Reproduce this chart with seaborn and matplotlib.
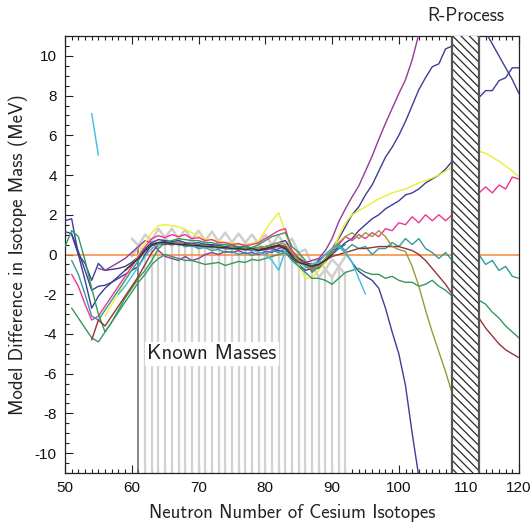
import numpy as np
import pandas as pd
import matplotlib
matplotlib.use("Agg")
import matplotlib.pyplot as plt
import seaborn as sns
from matplotlib.ticker import MultipleLocator, FixedLocator, FixedFormatter
from matplotlib.patches import Rectangle

nan = np.nan

# ---------------- model differences (MeV) vs neutron number ----------------
navy1_start = 50
navy1 = [1.7, 1.8, 0.0, -0.45, -1.3, -0.45, -0.8, -0.75, -0.7, -0.6,
         -0.4, -0.1, 0.3, 0.6, 0.75, 0.7, 0.65, 0.7, 0.6, 0.55,
         0.6, 0.5, 0.5, 0.45, 0.4, 0.45, 0.35, 0.4, 0.3, 0.35,
         0.4, 0.5, 0.6, 0.7, 0.2, -0.3, -0.6, -0.7, -0.3, 0.0,
         0.3, 0.8, 1.4, 2.0, 2.4, 3.0, 3.5, 4.2, 4.9, 5.4,
         6.0, 6.7, 7.5, 8.3, 8.9, 9.45, 9.6, 10.35, 10.5, nan,
         nan, nan, 11.8, 11.2, 10.6, 10.0, 9.4, 8.8, 8.1]

navy2_start = 50
navy2 = [1.15, 1.05, 0.15, -0.8, -1.8, -1.6, -1.55, -1.4, -1.2, -1.0,
         -0.8, -0.6, 0.0, 0.5, 0.6, 0.65, 0.55, 0.6, 0.5, 0.5,
         0.45, 0.45, 0.35, 0.4, 0.3, 0.3, 0.25, 0.3, 0.2, 0.25,
         0.3, 0.35, 0.4, 0.3, 0.0, -0.3, -0.5, -0.6, -0.5, -0.3,
         0.0, 0.3, 0.6, 0.8, 1.2, 1.5, 1.8, 2.0, 2.3, 2.5,
         2.7, 3.0, 3.1, 3.3, 3.6, 3.8, 4.0, 4.3, 4.7, nan,
         nan, nan, 7.9, 8.25, 8.25, 8.75, 8.9, 9.4, 9.4]

navy3_start = 51
navy3 = [1.0, 0.0, -1.3, -2.7, -2.1, -1.7, -1.4, -1.1, -0.8,
         -0.5, -0.2, 0.2, 0.45, 0.55, 0.5, 0.6, 0.5, 0.55, 0.45,
         0.5, 0.4, 0.45, 0.35, 0.4, 0.3, 0.35, 0.25, 0.3, 0.2,
         0.25, 0.3, 0.2, 0.1, -0.2, -0.5, -0.8, -0.7, -0.7, -0.4,
         0.1, 0.4, 0.1, -0.4, -0.85, -1.1, -1.3, -1.7, -2.7, -3.9,
         -5.0, -6.6, -9.0, -11.2]

purple_start = 55
purple = [-0.7, -0.8, -0.6, -0.4, -0.2,
          0.1, 0.4, 0.7, 0.6, 0.2, -0.1, -0.2, -0.3, -0.1, -0.3,
          -0.2, 0.0, 0.1, 0.0, 0.15, 0.1, 0.2, 0.05, 0.1, 0.0,
          0.15, 0.1, 0.3, 0.4, 0.2, -0.2, -0.4, -0.3, -0.2, 0.2,
          0.8, 1.65, 2.3, 2.9, 3.45, 4.2, 4.95, 5.8, 6.6, 7.35,
          8.1, 8.8, 9.8, 11.1]

yellow_start = 56
yellow = [-3.1, -2.5, -2.0, -1.3,
          -0.7, 0.0, 0.6, 1.1, 1.45, 1.5, 1.45, 1.4, 1.25, 1.1,
          0.9, 0.8, 0.75, 0.7, 0.6, 0.6, 0.5, 0.5, 0.55, 0.7,
          1.2, 1.7, 2.1, 1.1, 0.2, -0.5, -1.2, -1.2, -0.8, -0.4,
          0.1, 0.9, 1.6, 2.0, 2.2, 2.4, 2.6, 2.8, 2.95, 3.1,
          3.2, 3.3, 3.45, 3.6, 3.72, 3.85, 4.0, 4.2, 4.4, nan,
          nan, nan, 5.2, 5.1, 4.9, 4.7, 4.45, 4.2, 3.9]

pink_start = 51
pink = [-1.0, -1.6, -2.5, -3.3, -3.1, -2.6, -2.1, -1.6, -1.1,
        -0.6, -0.1, 0.4, 0.8, 0.95, 0.85, 1.0, 0.9, 1.0, 0.8,
        0.85, 0.7, 0.75, 0.6, 0.6, 0.5, 0.55, 0.45, 0.5, 0.6,
        0.8, 1.0, 1.2, 1.3, 0.2, -0.2, -0.6, -0.8, -0.5, -0.3,
        0.2, 0.5, 0.9, 0.7, 1.0, 0.8, 1.1, 0.9, 1.3, 1.2,
        1.6, 1.5, 1.9, 1.6, 2.0, 1.7, 2.0, 1.7, 2.0, nan,
        nan, nan, 3.1, 3.4, 3.1, 3.5, 3.3, 3.9, 3.8]

teal_start = 51
teal = [-0.3, -1.0, -2.0, -3.1, -3.3, -2.8, -2.3, -1.8, -1.3,
        -0.8, -0.3, 0.2, 0.5, 0.6, 0.55, 0.5, 0.55, 0.4, 0.45,
        0.3, 0.35, 0.2, 0.25, 0.1, 0.15, 0.0, 0.1, -0.05, 0.1,
        0.0, 0.2, 0.1, 0.3, 0.0, -0.2, -0.4, -0.6, -0.6, -0.2,
        0.3, 0.5, 0.2, 0.5, 0.3, 0.4, 0.0, 0.3, 0.3, 0.6,
        0.4, 0.8, 0.5, 0.8, 0.3, 0.1, -0.2, 0.1, -0.3, nan,
        nan, nan, 0.0, -0.5, -0.3, -0.8, -0.6, -1.1, -1.2]

green1_start = 50
green1 = [0.4, 1.2, 0.9, -0.3, -1.7, -3.0, -3.9, -3.4, -2.9, -2.4,
          -1.9, -1.4, -1.0, -0.5, -0.2, 0.0, -0.1, -0.2, -0.3, -0.3,
          -0.4, -0.5, -0.45, -0.4, -0.55, -0.45, -0.35, -0.4, -0.25, -0.3,
          -0.2, -0.1, 0.0, 0.1, -0.3, -0.6, -0.9, -1.2, -1.2, -1.3,
          -1.5, -1.2, -0.9, -0.8, -0.7, -0.9, -1.0, -1.0, -1.2, -1.1,
          -1.3, -1.4, -1.4, -1.6, -1.5, -1.3, -1.6, -1.8, -2.1, nan,
          nan, nan, -2.3, -2.5, -2.9, -3.2, -3.6, -3.9, -4.2]

green2_start = 51
green2 = [-2.7, -3.2, -3.7, -4.2, -4.4, -3.9, -3.4, -2.8, -2.2,
          -1.7, -1.2, -0.8, -0.3, 0.3, 0.6, 0.7, 0.8, 0.75, 0.7,
          0.7, 0.6, 0.6, 0.5, 0.5, 0.45, 0.4, 0.4, 0.35, 0.5,
          0.7, 0.9, 1.0, 1.1, 0.4, 0.1, -0.3, -0.9, -0.6, -0.2,
          0.1, 0.3, 0.5]

darkred_start = 54
darkred = [-4.3, -3.3, -3.6, -3.1, -2.6, -2.1,
           -1.6, -1.1, -0.5, 0.1, 0.5, 0.55, 0.5, 0.55, 0.45, 0.5,
           0.4, 0.4, 0.35, 0.35, 0.3, 0.3, 0.25, 0.3, 0.2, 0.25,
           0.3, 0.35, 0.5, 0.4, 0.0, -0.2, -0.4, -0.5, -0.5, -0.3,
           -0.1, 0.0, 0.1, 0.2, 0.3, 0.3, 0.35, 0.4, 0.4, 0.4,
           0.4, 0.3, 0.2, 0.0, -0.3, -0.7, -1.1, -1.5, -2.0, nan,
           nan, nan, -3.2, -3.7, -4.1, -4.5, -4.8, -5.0, -5.2]

olive_start = 62
olive = [0.2, 0.5, 0.6, 0.6, 0.55, 0.6, 0.5, 0.5,
         0.45, 0.45, 0.4, 0.4, 0.35, 0.35, 0.3, 0.3, 0.3, 0.35,
         0.4, 0.5, 0.6, 0.5, 0.1, -0.3, -0.6, -0.7, -0.6, -0.2,
         0.3, 0.6, 0.9, 1.1, 0.8, 1.1, 0.9, 1.2, 0.9, 0.4,
         0.25, 0.15, -0.6, -1.6, -2.8, -3.9, -4.9, -5.9, -7.0]

cyan_start = 58
cyan = [-2.0, -1.6,
        -1.1, -0.6, -0.1, 0.3, 0.5, 0.6, 0.55, 0.5, 0.5, 0.4,
        0.45, 0.35, 0.4, 0.3, 0.35, 0.25, 0.3, 0.2, 0.25, 0.1,
        0.0, -0.3, -0.8, 0.2, -0.1, -0.4, -0.6, -0.5, -0.4, 0.0,
        0.3, 0.4, 0.1, -0.4, -1.2, -2.0]

cyan2_start = 54
cyan2 = [7.1, 5.0]

black_start = 59
black = [-0.8,
         -0.5, -0.2, 0.2, 0.5, 0.6, 0.6, 0.55, 0.5, 0.5, 0.45,
         0.45, 0.4, 0.4, 0.35, 0.35, 0.3, 0.3, 0.25, 0.3, 0.2,
         0.3, 0.4, 0.45, 0.3, -0.1, -0.4, -0.5, -0.6, -0.5, -0.3,
         0.0]

# ---------------- known masses band (grey) ----------------
known_start = 60
known_line1 = [0.80, 0.45, 0.10, 0.70, 1.30, 0.85, 0.40, 0.80, 1.25, 0.75,
               0.30, 0.70, 1.15, 0.65, 0.20, 0.60, 1.05, 0.60, 0.10, 0.55,
               1.00, 0.50, 0.05, 0.45, 0.80, 0.10, -0.65, -0.50, -0.25, -0.75,
               -1.15, -0.60, -0.10]
known_line2 = [-0.10, 0.45, 1.00, 0.70, 0.40, 0.85, 1.30, 0.80, 0.35, 0.75,
               1.20, 0.70, 0.25, 0.65, 1.10, 0.60, 0.15, 0.60, 1.00, 0.55,
               0.10, 0.50, 0.95, 0.45, -0.10, 0.10, 0.25, -0.50, -1.15, -0.75,
               -0.25, -0.60, -1.00]
known_edge_N = 61
known_first_N = 62
known_last_N = 92

rprocess_lo, rprocess_hi = 108, 112

xtick_pos = [50, 60, 70, 80, 90, 100, 110, 118]
xtick_lab = ["50", "60", "70", "80", "90", "100", "110", "120"]

series = [
    ("navy1", navy1_start, navy1, "#3d3d97"),
    ("navy2", navy2_start, navy2, "#3d3d97"),
    ("navy3", navy3_start, navy3, "#3d3d97"),
    ("purple", purple_start, purple, "#953a95"),
    ("yellow", yellow_start, yellow, "#eeee30"),
    ("pink", pink_start, pink, "#ef3590"),
    ("teal", teal_start, teal, "#34999a"),
    ("green1", green1_start, green1, "#35995c"),
    ("green2", green2_start, green2, "#35995c"),
    ("darkred", darkred_start, darkred, "#963434"),
    ("olive", olive_start, olive, "#99993a"),
    ("cyan", cyan_start, cyan, "#3bbde3"),
    ("cyan2", cyan2_start, cyan2, "#3bbde3"),
    ("black", black_start, black, "#333333"),
]

rows = []
for name, start, vals, color in series:
    seg = 0
    gap = True
    for i, v in enumerate(vals):
        if np.isnan(v):
            gap = True
            continue
        if gap:
            seg += 1
            gap = False
        rows.append((name, f"{name}_{seg}", start + i, v))
df = pd.DataFrame(rows, columns=["model", "unit", "N", "value"])
palette = {name: color for name, _, _, color in series}
order = [s[0] for s in series]

kN = np.arange(known_start, known_start + len(known_line1))
known_df = pd.DataFrame({
    "N": np.concatenate([kN, kN]),
    "value": np.concatenate([known_line1, known_line2]),
    "line": ["a"] * len(kN) + ["b"] * len(kN),
})

# ---------------- drawing ----------------
sns.set_theme(style="white")
plt.rcParams["font.family"] = ["Liberation Sans", "DejaVu Sans"]
plt.rcParams["axes.unicode_minus"] = False
plt.rcParams["hatch.linewidth"] = 0.9

fig = plt.figure(figsize=(5.32, 5.25), dpi=100)
fig.patch.set_facecolor("white")
ax = fig.add_axes([65 / 532, 1 - 473 / 525, (519 - 65) / 532, (473 - 36) / 525])

ylo, yhi = -11, 11
# known masses: vertical lines up to the lower zig-zag
low = np.minimum(known_line1, known_line2)
sel = (kN >= known_first_N) & (kN <= known_last_N)
ax.vlines(kN[sel], ylo, low[sel], colors="#d2d2d2", lw=1.6, zorder=1)
edge_top = low[kN == known_edge_N][0]
ax.vlines([known_edge_N], ylo, edge_top, colors="#666666", lw=1.1, zorder=1)
sns.lineplot(data=known_df, x="N", y="value", units="line", estimator=None,
             color="#cfcfcf", lw=1.8, ax=ax, zorder=1, legend=False)

ax.axhline(0, color="#f48a3c", lw=1.1, zorder=2)

sns.lineplot(data=df, x="N", y="value", hue="model", hue_order=order,
             units="unit", estimator=None, palette=palette, lw=1.0,
             ax=ax, zorder=3, legend=False)

ax.add_patch(Rectangle((rprocess_lo, ylo), rprocess_hi - rprocess_lo, yhi - ylo,
                       facecolor="white", edgecolor="#2a2a2a", hatch="\\\\\\\\",
                       lw=0, zorder=6))
ax.vlines([rprocess_lo, rprocess_hi], ylo, yhi, colors="#555555", lw=1.6, zorder=7)

ax.text(72, -5.0, "Known Masses", ha="center", va="center", fontsize=15,
        family="cmss10", color="#222222", zorder=5,
        bbox=dict(facecolor="white", edgecolor="none", pad=2))
ax.annotate("R-Process", xy=(110, yhi), xytext=(0, 8), textcoords="offset points",
            ha="center", va="bottom", fontsize=13.5, family="cmss10",
            color="#222222", annotation_clip=False)

ax.set_xlim(50, 118)
ax.set_ylim(ylo, yhi)
ax.xaxis.set_major_locator(FixedLocator(xtick_pos))
ax.xaxis.set_major_formatter(FixedFormatter(xtick_lab))
ax.xaxis.set_minor_locator(MultipleLocator(1))
ax.yaxis.set_major_locator(FixedLocator(list(range(-10, 11, 2))))
ax.yaxis.set_minor_locator(MultipleLocator(0.5))
ax.tick_params(which="both", direction="in", top=True, right=False,
               bottom=True, left=True, color="#222222", width=0.8)
ax.tick_params(which="major", length=6, labelsize=11, pad=6, labelcolor="#111111")
ax.tick_params(which="minor", length=3)
for sp in ax.spines.values():
    sp.set_color("#222222")
    sp.set_linewidth(0.9)

ax.set_xlabel("Neutron Number of Cesium Isotopes", fontsize=13.5,
              family="cmss10", color="#222222", labelpad=6)
ax.set_ylabel("Model Difference in Isotope Mass (MeV)", fontsize=13.5,
              family="cmss10", color="#222222", labelpad=5)
ax.grid(False)

fig.savefig("out.png", dpi=100, facecolor="white")
